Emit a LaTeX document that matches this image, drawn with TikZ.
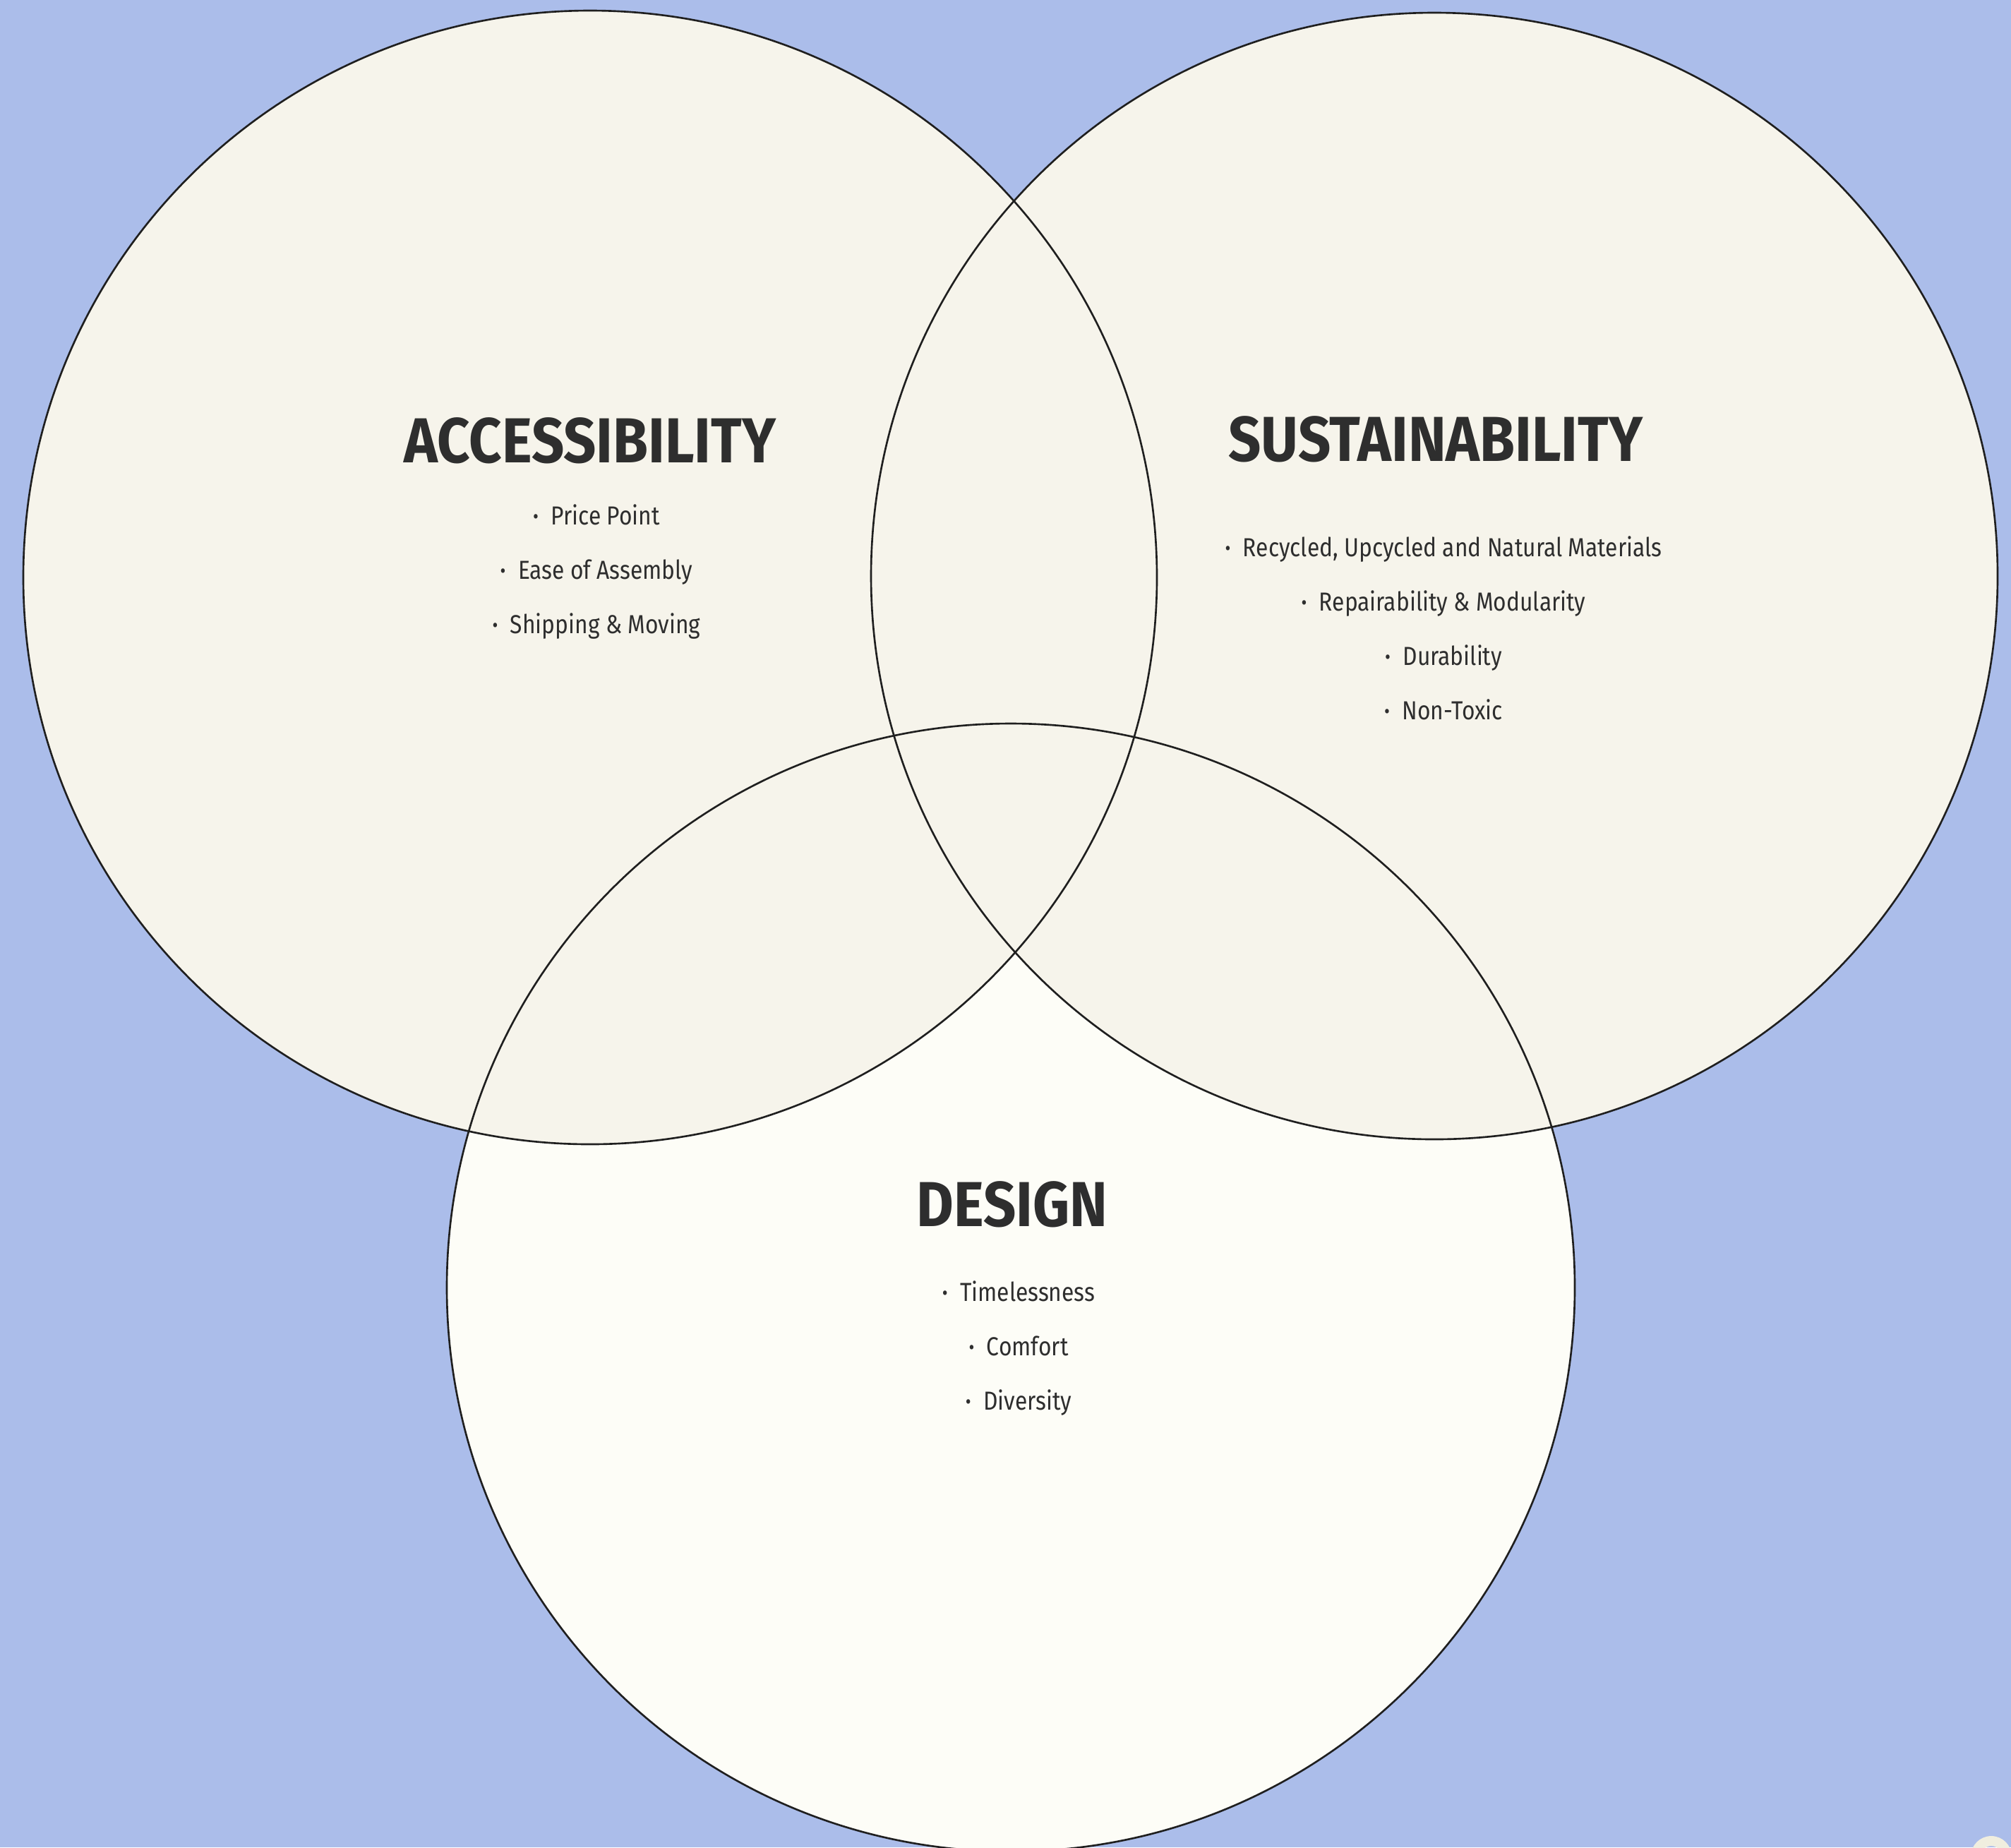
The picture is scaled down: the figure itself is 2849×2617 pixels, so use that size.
\documentclass[tikz,border=0pt]{standalone}
\usepackage{fontspec}
\setmainfont{Fira Sans}[FakeStretch=0.86]
\newfontfamily\headfont{Fira Sans}[FakeStretch=0.9]
\definecolor{bgblue}{HTML}{ABBDEA}
\definecolor{cream}{HTML}{F6F4EB}
\definecolor{paper}{HTML}{FDFDF7}
\definecolor{knob}{HTML}{F0EEDF}
\definecolor{ink}{HTML}{2E2E2E}
\newcommand\dotitem[1]{\raisebox{0.4pt}{\fontsize{8}{8}\selectfont •}\hspace{5pt}#1}
\begin{document}
\begin{tikzpicture}[x=0.01cm, y=-0.01cm,
  ring/.style={draw=black!88, line width=0.75pt},
  heading/.style={anchor=base, text=ink, inner sep=0pt,
    font=\headfont\fontsize{25.6}{30}\selectfont\bfseries},
  item/.style={anchor=base, text=ink, inner sep=0pt,
    font=\fontsize{10.5}{12}\selectfont}]
\useasboundingbox (0,0) rectangle (2849,2617);
\clip (0,0) rectangle (2849,2617);
\fill[bgblue] (0,0) rectangle (2849,2617);
% circles
\fill[paper] (1432,1824) circle [radius=799];
\fill[cream] (836,818) circle [radius=803];
\fill[cream] (2032,816) circle [radius=798];
\draw[ring] (1432,1824) circle [radius=799];
\draw[ring] (836,818) circle [radius=803];
\draw[ring] (2032,816) circle [radius=798];
% corner knob
\fill[knob, even odd rule] (2821,2630) circle [radius=29] (2821,2630) circle [radius=15];
% headings
\node[heading] (access) at (836,655) {ACCESSIBILITY};
\node[heading] (sustain) at (2034,653) {SUSTAINABILITY};
\node[heading] (design) at (1434,1737) {DESIGN};
% items
\foreach \t [count=\i from 0] in {Price Point, Ease of Assembly, Shipping \& Moving}
  \node[item] (access-\i) at (845,743+77*\i) {\dotitem{\t}};
\foreach \t [count=\i from 0] in {{Recycled, Upcycled and Natural Materials},
    Repairability \& Modularity, Durability, Non-Toxic}
  \node[item] (sustain-\i) at (2045,788+77*\i) {\dotitem{\t}};
\foreach \t [count=\i from 0] in {Timelessness, Comfort, Diversity}
  \node[item] (design-\i) at (1443,1843+77*\i) {\dotitem{\t}};
\end{tikzpicture}
\end{document}
